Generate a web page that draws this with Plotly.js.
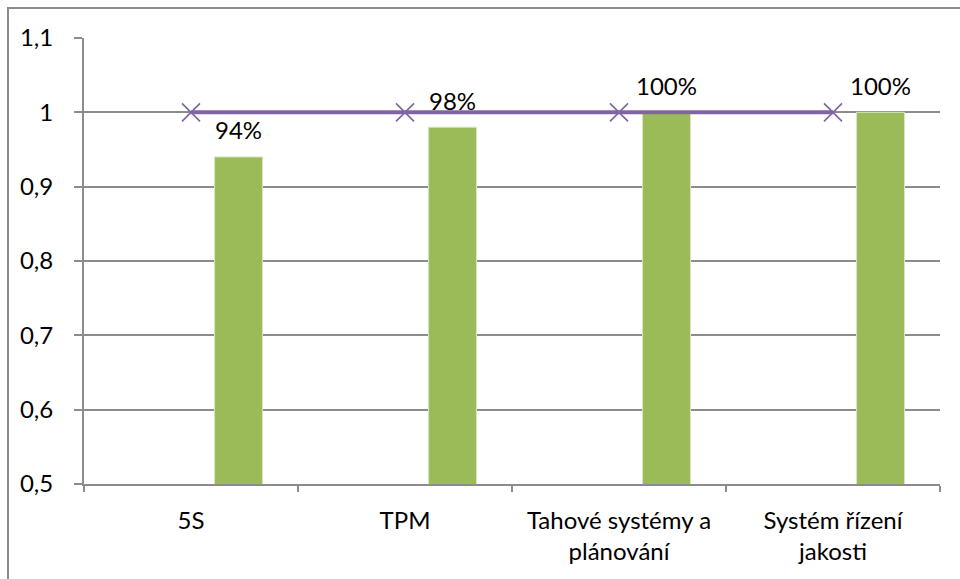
<!DOCTYPE html>
<html>
<head>
<meta charset="utf-8">
<script src="https://cdn.plot.ly/plotly-3.0.1.min.js"></script>
<style>
  html, body { margin: 0; padding: 0; background: #fff; }
  #wrap { position: relative; width: 960px; height: 579px; overflow: hidden; }
  #chart { position: absolute; left: 0; top: 0; width: 960px; height: 579px; }
  #frame { position: absolute; left: 7px; top: 7px; width: 960px; height: 600px;
           border-left: 2px solid #8c8c8c; border-top: 2px solid #8c8c8c; pointer-events: none; }
</style>
</head>
<body>
<div id="wrap">
  <div id="chart"></div>
  <div id="frame"></div>
</div>
<script>
// Lean tools and their assessed level of implementation
const categories = ['5S', 'TPM', 'Tahové systémy a<br>plánování', 'Systém řízení<br>jakosti'];
const achieved = [0.94, 0.98, 1.0, 1.0];
const target = [1, 1, 1, 1];
const yTickVals = [0.5, 0.6, 0.7, 0.8, 0.9, 1.0, 1.1];
const yTickText = ['0,5', '0,6', '0,7', '0,8', '0,9', '1', '1,1'];

const GREEN = '#9BBB59';
const PURPLE = '#8064A2';
const GRID = '#8c8c8c';
const FONT = 'Lato, "Open Sans", sans-serif';
const FS = 24;

// bars sit in the right half of each category slot
const barOffset = 0.11;
const barWidth = 0.224;

const bars = {
  type: 'bar',
  x: categories,
  y: achieved,
  offset: barOffset,
  width: barWidth,
  marker: { color: GREEN, line: { color: '#d9e6c0', width: 1 } },
  hoverinfo: 'skip'
};

const line = {
  type: 'scatter',
  mode: 'lines+markers',
  x: categories,
  y: target,
  line: { color: PURPLE, width: 4 },
  marker: { symbol: 'x-thin', size: 18, line: { color: PURPLE, width: 1.6 } },
  hoverinfo: 'skip'
};

const annotations = achieved.map((v, i) => ({
  x: i + barOffset + barWidth / 2,
  y: v,
  xref: 'x', yref: 'y',
  text: Math.round(v * 100) + '%',
  showarrow: false,
  yanchor: 'middle',
  yshift: 27,
  font: { family: FONT, size: FS, color: '#000' }
}));

const layout = {
  width: 960, height: 579,
  margin: { l: 84, r: 20, t: 38, b: 95 },
  paper_bgcolor: '#fff',
  plot_bgcolor: '#fff',
  showlegend: false,
  font: { family: FONT, size: FS, color: '#000' },
  xaxis: {
    type: 'category',
    tickson: 'boundaries',
    ticks: 'outside',
    ticklen: 6,
    tickwidth: 2,
    tickcolor: GRID,
    ticklabelstandoff: 14,
    showgrid: false,
    showline: true,
    linecolor: GRID,
    linewidth: 2,
    zeroline: false,
    tickfont: { family: FONT, size: FS, color: '#000' },
    range: [-0.5, 3.5],
    fixedrange: true
  },
  yaxis: {
    range: [0.5, 1.1],
    tickvals: yTickVals,
    ticktext: yTickText,
    ticks: 'outside',
    ticklen: 8,
    tickwidth: 2,
    tickcolor: GRID,
    ticklabelstandoff: 16,
    showgrid: true,
    gridcolor: GRID,
    gridwidth: 2,
    showline: true,
    linecolor: GRID,
    linewidth: 2,
    zeroline: false,
    tickfont: { family: FONT, size: FS, color: '#000' },
    fixedrange: true
  },
  annotations: annotations
};

Plotly.newPlot('chart', [bars, line], layout, { displayModeBar: false, staticPlot: true });
</script>
</body>
</html>
